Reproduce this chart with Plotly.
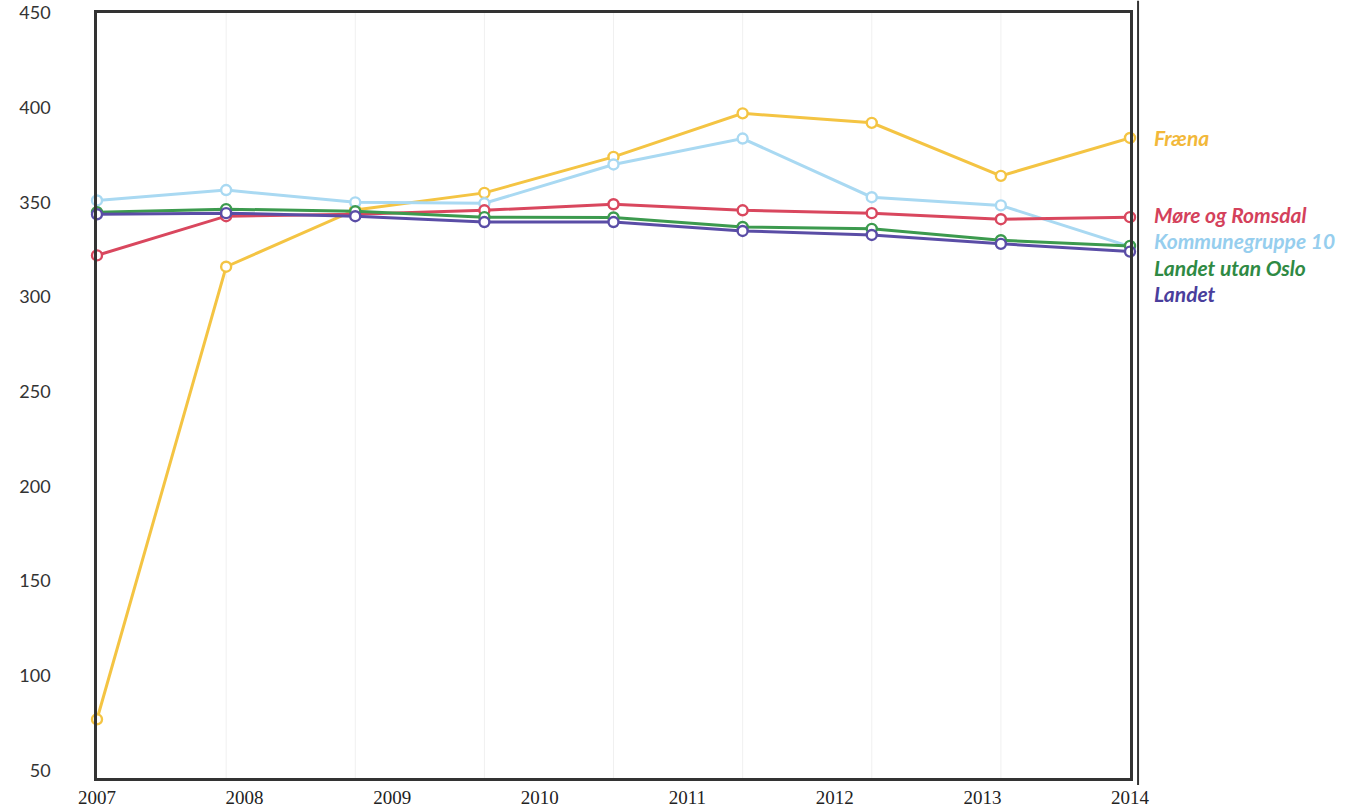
import plotly.graph_objects as go

# ---- data ----
points = list(range(9))  # 9 observations drawn across the axis
year_labels = ["2007", "2008", "2009", "2010", "2011", "2012", "2013", "2014"]

fraena = [77, 316, 346, 355, 374, 397, 392, 364, 384]
kommunegruppe10 = [351, 356.5, 350, 349.5, 370, 383.7, 352.7, 348.4, 326.6]
more_romsdal = [322, 342.7, 343.7, 345.8, 349, 345.8, 344.3, 341.1, 342.2]
landet_utan_oslo = [344.8, 346.4, 345.3, 342.2, 342, 337, 336, 330, 327]
landet = [343.7, 344.3, 342.7, 339.6, 339.6, 334.9, 332.8, 328.1, 324]

y_ticks = [50, 100, 150, 200, 250, 300, 350, 400, 450]

series = [
    ("Fræna", fraena, "#F4C443", "#F2B83A", 0),
    ("Kommunegruppe 10", kommunegruppe10, "#A9D9F2", "#96CEEE", 6),
    ("Møre og Romsdal", more_romsdal, "#D9475E", "#D4415B", 3),
    ("Landet utan Oslo", landet_utan_oslo, "#3C9A4E", "#2F8A44", -22),
    ("Landet", landet, "#5A4DA6", "#4A3E9C", -42),
]

fig = go.Figure()
n = len(points)
tick_pos = [i * (n - 1) / (len(year_labels) - 1) for i in range(len(year_labels))]

annotations = []
for name, vals, col, lab_col, yshift in series:
    fig.add_trace(go.Scatter(
        x=points, y=vals, mode="lines+markers", name=name,
        line=dict(color=col, width=3),
        marker=dict(symbol="circle", size=10, color="white",
                    line=dict(color=col, width=2.4)),
        showlegend=False, cliponaxis=False,
    ))
    annotations.append(dict(
        x=points[-1], y=vals[-1], xref="x", yref="y",
        text=f"<b><i>{name}</i></b>", showarrow=False,
        xanchor="left", yanchor="middle", xshift=22, yshift=yshift,
        font=dict(family="Lato, Open Sans, sans-serif", size=21, color=lab_col),
    ))

# faint vertical guides at observation points
for p in points[1:-1]:
    fig.add_shape(type="line", xref="x", yref="paper", x0=p, x1=p, y0=0, y1=1,
                  line=dict(color="#F0F0F0", width=1), layer="below")

# outer second right border line
fig.add_shape(type="line", xref="paper", yref="paper", x0=1.0078, x1=1.0078,
              y0=-0.009, y1=1.016, line=dict(color="#333333", width=2))

fig.update_layout(
    width=1349, height=807,
    margin=dict(l=97, r=219, t=13, b=29),
    paper_bgcolor="white", plot_bgcolor="white",
    annotations=annotations,
    xaxis=dict(
        range=[0, n - 1], tickmode="array", tickvals=tick_pos, ticktext=year_labels,
        showgrid=False, zeroline=False, automargin=False,
        showline=True, linecolor="#333333", linewidth=2.5, mirror=True,
        tickfont=dict(family="Liberation Serif, Times New Roman, serif", size=19, color="#222222"),
        ticks="", ticklabelstandoff=0, ticklabeloverflow="allow",
    ),
    yaxis=dict(
        range=[46, 450], tickmode="array", tickvals=y_ticks,
        showgrid=False, zeroline=False, automargin=False,
        showline=True, linecolor="#333333", linewidth=2.5, mirror=True,
        tickfont=dict(family="Lato, Open Sans, sans-serif", size=18, color="#333333"),
        ticks="", ticklabelstandoff=40, ticklabeloverflow="allow",
    ),
)

fig.write_html("out.html", config={"displayModeBar": False},
               post_script="document.body.style.margin='0';")
